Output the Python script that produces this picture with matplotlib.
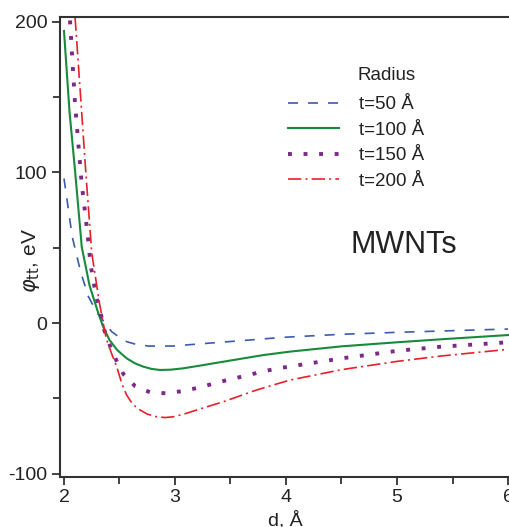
"""Interaction potential between MWNTs of different radius vs. separation."""

import matplotlib
matplotlib.use("Agg")
import matplotlib.pyplot as plt
from matplotlib.ticker import MultipleLocator

plt.rcParams["font.family"] = ["Liberation Sans", "DejaVu Sans"]
plt.rcParams["mathtext.fontset"] = "dejavusans"
plt.rcParams["axes.unicode_minus"] = False

# values (d in Angstrom, potential in eV)
d_50 = [2.0, 2.075, 2.15, 2.22, 2.30, 2.43, 2.50, 2.565, 2.65, 2.76, 2.98,
        3.285, 3.585, 3.975, 4.5, 5.0, 5.4, 6.0]
phi_50 = [96, 57, 34, 17.5, 6.5, -5.8, -9.5, -12.4, -14.2, -15.3, -15.3,
          -13.5, -11.8, -9.5, -7.5, -6.2, -5.3, -4.0]

d_100 = [2.0, 2.05, 2.099, 2.16, 2.23, 2.30, 2.35, 2.41, 2.48, 2.565, 2.64,
         2.715, 2.79, 2.865, 2.96, 3.075, 3.25, 3.435, 3.795, 4.036, 4.5, 5.0,
         5.4, 6.0]
phi_100 = [194, 140, 101.7, 50.5, 25, 8.6, -2, -11.3, -18, -23.5, -26.8,
           -29, -30.5, -31.2, -31.0, -30.1, -28.0, -25.7, -21.3, -19, -15.5,
           -12.8, -10.8, -8.0]

d_150 = [2.054, 2.10, 2.159, 2.21, 2.24, 2.29, 2.33, 2.36, 2.41, 2.47, 2.535,
         2.64, 2.775, 2.92, 3.07, 3.21, 3.355, 3.495, 3.64, 3.784, 3.93, 4.5,
         5.0, 5.4, 6.0]
phi_150 = [201, 145, 93, 60.7, 38.5, 17.5, 6.9, -4.2, -14.2, -24.6, -33.9,
           -41.9, -46, -46.7, -45.2, -43, -40.1, -37.4, -35, -32.3, -30.1,
           -23.5, -18.5, -15.7, -12.8]

d_200 = [2.10, 2.15, 2.195, 2.25, 2.32, 2.37, 2.385, 2.43, 2.475, 2.52, 2.565,
         2.62, 2.685, 2.75, 2.835, 2.91, 2.985, 3.08, 3.195, 3.435, 3.735,
         4.036, 4.5, 5.0, 5.4, 6.0]
phi_200 = [203, 150, 101.7, 46.5, 13, -6.6, -11.3, -20.5, -29, -40, -48,
           -54, -57.8, -60.5, -62.3, -62.8, -62.3, -60.5, -57.8, -52.3, -44.5,
           -37.9, -31, -25.5, -21.9, -17.5]

labels = ["t=50 Å", "t=100 Å", "t=150 Å", "t=200 Å"]


def main() -> None:
    fig = plt.figure(figsize=(5.10, 5.27), dpi=100)
    ax = fig.add_axes([60 / 510, 50 / 527, 450 / 510, 460 / 527])

    ax.plot(d_50, phi_50, color="#3b5bab", lw=1.2, ls=(0, (6, 6)),
            label=labels[0])
    ax.plot(d_100, phi_100, color="#178a3c", lw=1.5, label=labels[1])
    ax.plot(d_150, phi_150, color="#7b2a87", lw=2.8, ls=(0, (1, 3)),
            dash_capstyle="butt", label=labels[2])
    ax.plot(d_200, phi_200, color="#e8202a", lw=1.2,
            ls=(0, (8, 2.5, 1.2, 2.5)), label=labels[3])

    ax.set_xlim(1.964, 6.018)
    ax.set_ylim(-102.3, 203.3)
    ax.xaxis.set_major_locator(MultipleLocator(1))
    ax.xaxis.set_minor_locator(MultipleLocator(0.5))
    ax.yaxis.set_major_locator(MultipleLocator(100))
    ax.yaxis.set_minor_locator(MultipleLocator(50))
    ax.tick_params(which="both", direction="out", width=1.3, color="#333333",
                   labelsize=14, labelcolor="#222222")
    ax.tick_params(which="major", length=6, pad=3)
    ax.tick_params(which="minor", length=5)

    ax.spines["right"].set_visible(False)
    for side in ("left", "bottom", "top"):
        ax.spines[side].set_linewidth(1.5)
        ax.spines[side].set_color("#333333")

    ax.set_xlabel("d, Å", fontsize=14, color="#222222")
    ax.xaxis.set_label_coords(0.5, -0.075)
    ax.set_ylabel(r"$\varphi_{\rm tt}$, eV", fontsize=15, color="#222222")
    ax.yaxis.set_label_coords(-0.04, 0.47)

    leg = ax.legend(loc="upper left", bbox_to_anchor=(228 / 450, 1 - 79 / 460),
                    frameon=False, fontsize=13.5, handlelength=2.7,
                    handletextpad=1.1, labelspacing=0.45, borderpad=0,
                    borderaxespad=0)
    for t in leg.get_texts():
        t.set_color("#222222")
    fig.text(358 / 510, 1 - 75 / 527, "Radius", fontsize=13.5,
             color="#222222", va="center", ha="left")
    ax.text(0.645, 0.505, "MWNTs", transform=ax.transAxes, fontsize=22,
            color="#222222", va="center", ha="left")

    fig.savefig("out.png", dpi=100)


if __name__ == "__main__":
    main()
